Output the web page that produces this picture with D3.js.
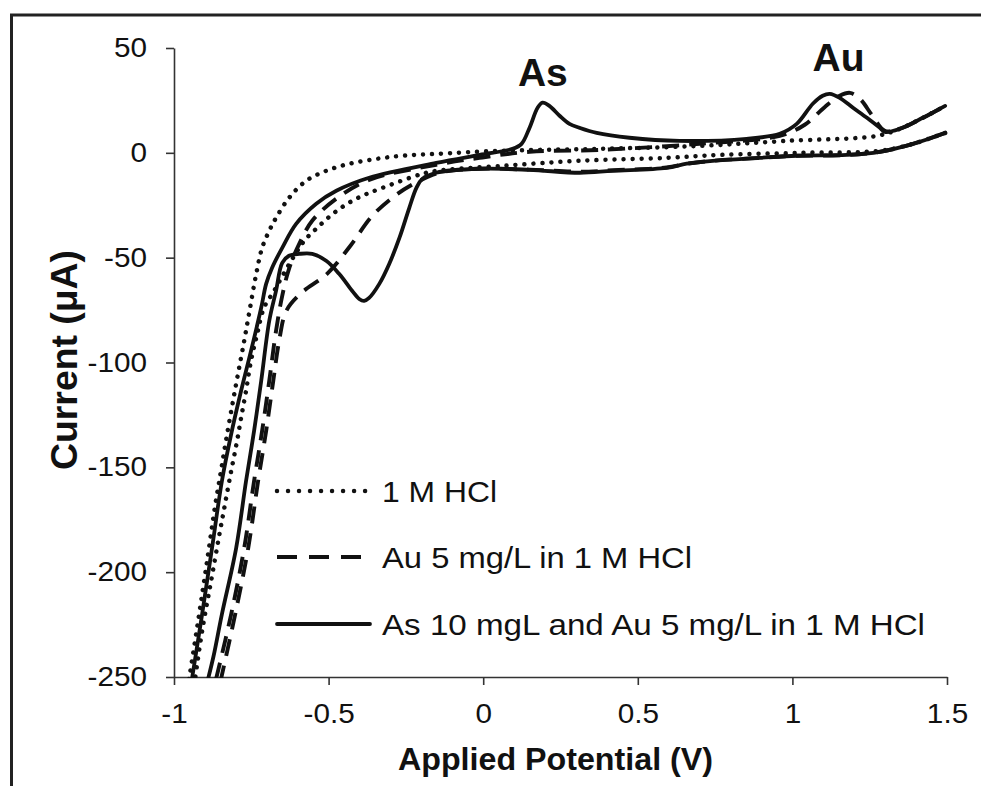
<!DOCTYPE html>
<html><head><meta charset="utf-8">
<script src="https://cdn.jsdelivr.net/npm/d3@7"></script>
<style>
html,body{margin:0;padding:0;background:#fff;}
svg{display:block;}
text{font-family:"Liberation Sans", Arial, sans-serif;fill:#111;}
</style></head>
<body><svg id="chart" width="981" height="786"></svg>
<script>
// ---------------- data ----------------
const xTicks = [-1, -0.5, 0, 0.5, 1, 1.5];
const yTicks = [50, 0, -50, -100, -150, -200, -250];
const seriesNames = ["1 M HCl", "Au 5 mg/L in 1 M HCl", "As 10 mgL and Au 5 mg/L in 1 M HCl"];
const peakLabels = ["As", "Au"];
const peakLabelV = [0.193, 1.149];
const peakLabelI = [32, 39];

// 1 M HCl (dotted) : forward (anodic) and reverse (cathodic) branches, [V, µA]
const hclForward = [[-0.951,-251],[-0.922,-223.3],[-0.893,-194.7],[-0.867,-168.4],[-0.848,-151.7],[-0.832,-137.4],
  [-0.812,-120.7],[-0.793,-105.4],[-0.773,-89.7],[-0.754,-73.9],[-0.734,-57.7],[-0.715,-45.3],[-0.692,-37.2],
  [-0.670,-31.0],[-0.628,-21.5],[-0.573,-13.4],[-0.508,-8.6],[-0.433,-5.2],[-0.346,-2.9],[-0.262,-1.4],
  [-0.152,-0.5],[0.062,1.0],[0.376,1.9],[0.700,3.3],[0.982,5.7],[1.273,8.1],[1.348,11.5],[1.422,16.7],[1.494,22.4]];
const hclReverse = [[1.494,9.5],[1.390,4.3],[1.283,1.0],[1.024,0],[0.765,-1.0],[0.593,-2.4],[0.312,-3.8],
  [0.062,-6.2],[-0.152,-8.6],[-0.197,-10.0],[-0.326,-16.7],[-0.411,-21.9],[-0.482,-28.6],[-0.537,-35.8],
  [-0.579,-42.0],[-0.611,-49.1],[-0.644,-57.3],[-0.676,-65.8],[-0.709,-73.9],[-0.731,-86.4],[-0.751,-99.2],
  [-0.767,-113.5],[-0.783,-126.4],[-0.796,-137.4],[-0.815,-151.7],[-0.835,-167.5],[-0.854,-182.7],
  [-0.880,-204.2],[-0.909,-228],[-0.932,-251]];

// Au 5 mg/L (dashed)
const auForward = [[-0.864,-251],[-0.815,-220],[-0.773,-188.5],[-0.741,-156.5],[-0.715,-132.6],[-0.692,-108.8],
  [-0.670,-84.9],[-0.650,-68.2],[-0.628,-55.3],[-0.595,-43.4],[-0.553,-32.4],[-0.472,-21.5],[-0.369,-12.9],
  [-0.152,-5.7],[-0.012,-2.4],[0.150,0.5],[0.376,1.4],[0.700,4.3],[0.959,8.1],[1.040,13.4],[1.105,21.9],
  [1.153,27.2],[1.186,28.6],[1.218,25.8],[1.257,18.1],[1.299,10.5],[1.348,11.5],[1.422,16.7],[1.494,22.4]];
const auReverse = [[1.494,9.5],[1.390,4.3],[1.283,0.5],[1.176,-1.0],[1.014,-1.4],[0.894,-2.4],[0.742,-3.8],
  [0.658,-5.2],[0.593,-7.0],[0.418,-8.3],[0.312,-9.0],[0.150,-8.0],[-0.012,-7.6],[-0.142,-9.5],[-0.207,-13.4],
  [-0.281,-20.0],[-0.359,-30.1],[-0.430,-44.4],[-0.505,-57.7],[-0.592,-67.3],[-0.637,-75.4],[-0.660,-89.7],
  [-0.679,-108.8],[-0.702,-132.6],[-0.728,-156.5],[-0.760,-188.5],[-0.802,-220],[-0.848,-251]];

// As 10 mg/L and Au 5 mg/L (solid)
const asAuForward = [[-0.942,-251],[-0.909,-220],[-0.877,-188.5],[-0.845,-156.5],[-0.815,-134.1],[-0.783,-113.5],
  [-0.751,-94.5],[-0.718,-73.9],[-0.702,-62.5],[-0.683,-54.9],[-0.650,-45.3],[-0.605,-33.9],[-0.540,-24.3],
  [-0.475,-18.1],[-0.369,-11.9],[-0.152,-4.8],[-0.012,-1.0],[0.095,1.9],[0.124,4.3],[0.150,12.0],[0.176,21.5],
  [0.192,23.9],[0.214,22.4],[0.247,17.7],[0.279,13.8],[0.312,11.9],[0.367,9.5],[0.473,7.2],[0.635,5.7],
  [0.852,6.7],[0.959,9.1],[1.014,13.8],[1.066,23.4],[1.098,27.2],[1.121,28.1],[1.153,26.2],[1.196,21.5],
  [1.241,16.7],[1.283,11.9],[1.299,10.0],[1.348,11.5],[1.422,16.7],[1.494,22.4]];
const asAuReverse = [[1.494,9.5],[1.390,4.3],[1.283,0.5],[1.176,-1.0],[1.014,-1.4],[0.894,-2.4],[0.742,-3.8],
  [0.658,-5.2],[0.593,-7.2],[0.418,-8.6],[0.312,-9.5],[0.150,-8.1],[-0.012,-7.6],[-0.152,-9.5],[-0.197,-12.4],
  [-0.216,-16.7],[-0.239,-26.2],[-0.271,-40.6],[-0.304,-53.0],[-0.336,-62.5],[-0.369,-69.2],[-0.385,-70.6],
  [-0.401,-69.7],[-0.424,-65.8],[-0.466,-57.7],[-0.508,-51.5],[-0.553,-48.2],[-0.595,-48.2],[-0.628,-49.1],
  [-0.650,-52.5],[-0.670,-65.8],[-0.692,-80.2],[-0.718,-108.8],[-0.741,-132.6],[-0.767,-156.5],[-0.799,-188.5],
  [-0.845,-220],[-0.872,-240],[-0.890,-251]];

// ---------------- drawing ----------------
const svg = d3.select("#chart");
const plot = {left: 174, right: 947, top: 48, bottom: 677};

// outer frame
svg.append("rect").attr("x", 11.5).attr("y", 15).attr("width", 990).attr("height", 800)
  .attr("fill", "none").attr("stroke", "#222").attr("stroke-width", 3);

const x = d3.scaleLinear().domain([-1, 1.5]).range([plot.left, plot.right]);
const y = d3.scaleLinear().domain([-250, 50]).range([plot.bottom, plot.top]);

const styles = [
  {data: [hclForward, hclReverse], dash: "0.01 9", legendDash: "0.01 11", width: 4.5, cap: "round"},
  {data: [auForward, auReverse], dash: "17 10", legendDash: "20 12", width: 3.9, cap: "butt"},
  {data: [asAuForward, asAuReverse], dash: null, legendDash: null, width: 3.8, cap: "round"}
];

// axes
const gx = svg.append("g").attr("transform", `translate(0,${plot.bottom})`)
  .call(d3.axisBottom(x).tickValues(xTicks).tickSize(8).tickSizeOuter(0).tickFormat(d => String(d)));
const gy = svg.append("g").attr("transform", `translate(${plot.left},0)`)
  .call(d3.axisLeft(y).tickValues(yTicks).tickSize(8).tickSizeOuter(0).tickFormat(d => String(d)));
[gx, gy].forEach(g => {
  g.select(".domain").attr("stroke", "#333").attr("stroke-width", 1.6);
  g.selectAll(".tick line").attr("stroke", "#333").attr("stroke-width", 1.6);
  g.selectAll(".tick text").attr("fill", "#111")
    .style("font-family", '"Liberation Sans", Arial, sans-serif').style("font-size", "27px");
});
gy.selectAll(".tick text").attr("x", -27 / 1.1).attr("transform", "scale(1.1,1)");
gx.selectAll(".tick text").attr("y", 46).attr("dy", 0).attr("transform", "scale(1.1,1)");

// clip
svg.append("clipPath").attr("id", "clip").append("rect")
  .attr("x", plot.left).attr("y", plot.top - 10).attr("width", plot.right - plot.left + 4)
  .attr("height", plot.bottom - plot.top + 11);

const line = d3.line().x(d => x(d[0])).y(d => y(d[1])).curve(d3.curveCatmullRom.alpha(0.5));
const gLines = svg.append("g").attr("clip-path", "url(#clip)");
styles.forEach(s => {
  s.data.forEach(branch => {
    gLines.append("path").attr("d", line(branch)).attr("fill", "none").attr("stroke", "#111")
      .attr("stroke-width", s.width).attr("stroke-linecap", s.cap).attr("stroke-linejoin", "round")
      .attr("stroke-dasharray", s.dash);
  });
});

// peak labels
peakLabels.forEach((t, k) => {
  svg.append("text").attr("x", x(peakLabelV[k])).attr("y", y(peakLabelI[k]))
    .attr("text-anchor", "middle").style("font-weight", "bold").style("font-size", "39px").text(t);
});

// legend
const legendX0 = 277, legendX1 = 370, legendTextX = 382;
const legendRowY = [491, 557, 624];
const legendTextLen = [115, 310, 543];
styles.forEach((s, k) => {
  svg.append("line").attr("x1", legendX0).attr("x2", legendX1)
    .attr("y1", legendRowY[k]).attr("y2", legendRowY[k])
    .attr("stroke", "#111").attr("stroke-width", s.width).attr("stroke-linecap", s.cap)
    .attr("stroke-dasharray", s.legendDash);
  svg.append("text").attr("x", legendTextX).attr("y", legendRowY[k] + 11)
    .style("font-size", "29px").attr("textLength", legendTextLen[k]).attr("lengthAdjust", "spacingAndGlyphs")
    .text(seriesNames[k]);
});

// axis titles
svg.append("text").attr("x", 555.5).attr("y", 770).attr("text-anchor", "middle")
  .style("font-weight", "bold").style("font-size", "30.5px")
  .attr("textLength", 315).attr("lengthAdjust", "spacingAndGlyphs")
  .text("Applied Potential (V)");
svg.append("text").attr("transform", "translate(77,360) scale(1.2,1) rotate(-90)")
  .attr("text-anchor", "middle").style("font-weight", "bold").style("font-size", "30.5px")
  .attr("textLength", 220).attr("lengthAdjust", "spacingAndGlyphs")
  .text("Current (μA)");
</script>
</body></html>
